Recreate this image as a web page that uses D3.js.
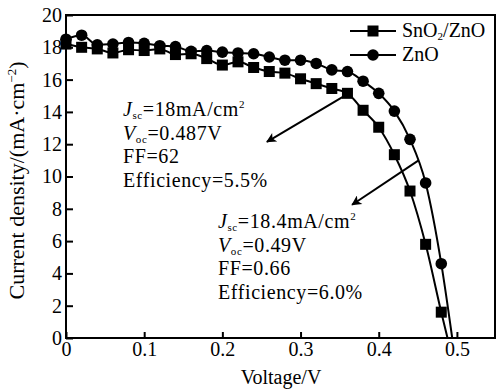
<!DOCTYPE html>
<html>
<head>
<meta charset="utf-8">
<script src="https://cdn.jsdelivr.net/npm/d3@7"></script>
<style>
  body { margin: 0; background: #fff; }
  text { font-family: "Liberation Serif", "Times New Roman", serif; fill: #000; }
</style>
</head>
<body>
<svg id="chart"></svg>
<script>
// Values
const voltage = [0.00, 0.02, 0.04, 0.06, 0.08, 0.10, 0.12, 0.14, 0.16, 0.18, 0.20, 0.22, 0.24,
                 0.26, 0.28, 0.30, 0.32, 0.34, 0.36, 0.38, 0.40, 0.42, 0.44, 0.46, 0.48];
const snoCurrent = [18.2, 18.0, 17.9, 17.65, 17.85, 17.8, 17.9, 17.55, 17.6, 17.3, 16.9, 17.1, 16.75,
                    16.5, 16.4, 16.05, 15.75, 15.45, 15.15, 14.1, 13.05, 11.35, 9.1, 5.8, 1.6];
const znoCurrent = [18.5, 18.75, 18.15, 18.2, 18.3, 18.25, 18.1, 18.05, 17.75, 17.8, 17.7, 17.65, 17.6,
                    17.4, 17.2, 17.2, 17.0, 16.6, 16.5, 15.9, 15.15, 14.05, 12.3, 9.6, 4.6];
const vocSno = 0.488;
const vocZno = 0.494;
const seriesNames = ["SnO\u2082/ZnO", "ZnO"];
const xTicks = [0, 0.1, 0.2, 0.3, 0.4, 0.5];
const yTicks = [0, 2, 4, 6, 8, 10, 12, 14, 16, 18, 20];
// arrows: [from, to] in data units
const arrowSno = [[0.36, 15.1], [0.257, 12.15]];
const arrowZno = [[0.451, 11.0], [0.366, 8.25]];

const width = 498;
const height = 391;
const margin = { top: 15, right: 2, bottom: 53, left: 66 };

const svg = d3.select("#chart")
  .attr("width", width)
  .attr("height", height);

const x = d3.scaleLinear()
  .domain([0, 0.55])
  .range([margin.left, width - margin.right]);

const y = d3.scaleLinear()
  .domain([0, 20])
  .range([height - margin.bottom, margin.top]);

const series = [
  { name: seriesNames[0], shape: "square", voc: vocSno,
    points: voltage.map((v, i) => ({ v: v, j: snoCurrent[i] })) },
  { name: seriesNames[1], shape: "circle", voc: vocZno,
    points: voltage.map((v, i) => ({ v: v, j: znoCurrent[i] })) }
];

// Axes (ticks point inward)
const xAxis = svg.append("g")
  .attr("transform", `translate(0,${y(0)})`)
  .call(d3.axisBottom(x).tickValues(xTicks).tickFormat(d => d === 0 ? "0" : d3.format(".1f")(d))
    .tickSizeInner(-6).tickSizeOuter(0).tickPadding(4));

const yAxis = svg.append("g")
  .attr("transform", `translate(${x(0)},0)`)
  .call(d3.axisLeft(y).tickValues(yTicks).tickSizeInner(-7).tickSizeOuter(0).tickPadding(4));

[xAxis, yAxis].forEach(a => {
  a.select(".domain").remove();
  a.selectAll(".tick line").attr("stroke", "#000").attr("stroke-width", 2);
  a.selectAll(".tick text")
    .attr("fill", "#000")
    .style("font-family", "'Liberation Serif', serif")
    .style("font-size", "20px");
});

// Frame
svg.append("rect")
  .attr("x", x(0))
  .attr("y", y(20))
  .attr("width", x(0.55) - x(0) - 1)
  .attr("height", y(0) - y(20))
  .attr("fill", "none")
  .attr("stroke", "#000")
  .attr("stroke-width", 2);

// Lines
const line = d3.line()
  .x(d => x(d.v))
  .y(d => y(d.j))
  .curve(d3.curveMonotoneX);

series.forEach(s => {
  svg.append("path")
    .datum(s.points.concat([{ v: s.voc, j: 0 }]))
    .attr("fill", "none")
    .attr("stroke", "#000")
    .attr("stroke-width", 2)
    .attr("d", line);
});

function drawMarker(g, shape, cx, cy) {
  if (shape === "square") {
    g.append("rect")
      .attr("x", cx - 5.5).attr("y", cy - 5.5)
      .attr("width", 11).attr("height", 11)
      .attr("fill", "#000");
  } else {
    g.append("circle")
      .attr("cx", cx).attr("cy", cy).attr("r", 5.8)
      .attr("fill", "#000");
  }
}

series.forEach(s => {
  const g = svg.append("g");
  s.points.forEach(p => drawMarker(g, s.shape, x(p.v), y(p.j)));
});

// Arrows
svg.append("defs").append("marker")
  .attr("id", "head")
  .attr("viewBox", "0 0 10 10")
  .attr("refX", 9).attr("refY", 5)
  .attr("markerWidth", 13).attr("markerHeight", 10)
  .attr("markerUnits", "userSpaceOnUse")
  .attr("orient", "auto")
  .append("path")
  .attr("d", "M0,0 L10,5 L0,10 L2.5,5 Z")
  .attr("fill", "#000");

[arrowSno, arrowZno].forEach(a => {
  svg.append("line")
    .attr("x1", x(a[0][0])).attr("y1", y(a[0][1]))
    .attr("x2", x(a[1][0])).attr("y2", y(a[1][1]))
    .attr("stroke", "#000")
    .attr("stroke-width", 2)
    .attr("marker-end", "url(#head)");
});

// Rich text helper: parts = [text, style] where style in {i, sub, sup}
function richText(px, py, parts, spacing) {
  const t = svg.append("text")
    .attr("x", px).attr("y", py)
    .style("font-size", "20px")
    .style("letter-spacing", spacing || "0px");
  let shift = 0;
  parts.forEach(p => {
    const [txt, st] = p;
    let target = 0;
    if (st === "sub") target = 3;
    if (st === "sup") target = -8;
    const ts = t.append("tspan").text(txt).attr("dy", target - shift);
    shift = target;
    if (st === "i") ts.style("font-style", "italic");
    if (st === "sub" || st === "sup") ts.style("font-size", "11px");
  });
  return t;
}

const noteSno = [
  [["J", "i"], ["sc", "sub"], ["=18mA/cm"], ["2", "sup"]],
  [["V", "i"], ["oc", "sub"], ["=0.487V"]],
  [["FF=62"]],
  [["Efficiency=5.5%"]]
];
const noteZno = [
  [["J", "i"], ["sc", "sub"], ["=18.4mA/cm"], ["2", "sup"]],
  [["V", "i"], ["oc", "sub"], ["=0.49V"]],
  [["FF=0.66"]],
  [["Efficiency=6.0%"]]
];
noteSno.forEach((l, i) => richText(123, 116 + i * 23.5, l, "0.6px"));
noteZno.forEach((l, i) => richText(218, 228 + i * 23.5, l, "0.6px"));

// Legend
const legend = svg.append("g");
series.forEach((s, i) => {
  const ly = 31 + i * 24;
  legend.append("line")
    .attr("x1", 350).attr("x2", 396)
    .attr("y1", ly).attr("y2", ly)
    .attr("stroke", "#000").attr("stroke-width", 2);
  drawMarker(legend, s.shape, 373, ly);
});
richText(402, 37, [["SnO"], ["2", "sub"], ["/ZnO"]]);
richText(402, 61, [["ZnO"]]);

// Axis titles
svg.append("text")
  .attr("x", (x(0) + x(0.55)) / 2)
  .attr("y", 384)
  .attr("text-anchor", "middle")
  .style("font-size", "20px")
  .text("Voltage/V");

const yTitle = svg.append("text")
  .attr("transform", `translate(24,${(y(0) + y(20)) / 2 + 4}) rotate(-90)`)
  .attr("text-anchor", "middle")
  .style("font-size", "22px");
yTitle.append("tspan").text("Current density/(mA\u00b7cm");
yTitle.append("tspan").text("\u22122").attr("dy", -8).style("font-size", "13px");
yTitle.append("tspan").text(")").attr("dy", 8);
</script>
</body>
</html>
